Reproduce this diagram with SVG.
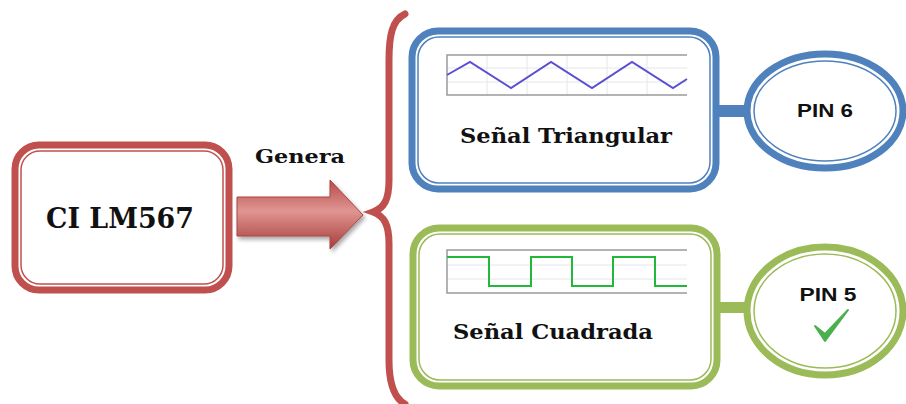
<svg xmlns="http://www.w3.org/2000/svg" width="906" height="404" viewBox="0 0 906 404">
<defs>
<linearGradient id="arrowGrad" x1="0" y1="0" x2="0" y2="1">
<stop offset="0" stop-color="#b84a48"/>
<stop offset="0.45" stop-color="#e09592"/>
<stop offset="1" stop-color="#a63c3a"/>
</linearGradient>
<filter id="shadow" x="-10%" y="-10%" width="130%" height="140%">
<feGaussianBlur in="SourceAlpha" stdDeviation="2"/>
<feOffset dx="2" dy="3"/>
<feComponentTransfer><feFuncA type="linear" slope="0.35"/></feComponentTransfer>
<feMerge><feMergeNode/><feMergeNode in="SourceGraphic"/></feMerge>
</filter>
</defs>
<style>
.serif{font-family:"DejaVu Serif","Liberation Serif",serif;font-weight:bold;fill:#111;}
.sans{font-family:"Liberation Sans","DejaVu Sans",sans-serif;font-weight:bold;fill:#111;}
.grid{stroke:#e6e6e6;stroke-width:1;fill:none;}
.frame{stroke:#9a9a9a;stroke-width:1.5;fill:none;}
</style>
<rect width="906" height="404" fill="#ffffff"/>

<g id="ci-lm567">
<rect x="15" y="145" width="214" height="145" rx="24" fill="#fff" stroke="#c0504d" stroke-width="7"/>
<rect x="21" y="151" width="202" height="133" rx="19" fill="none" stroke="#c0504d" stroke-width="1.5"/>
<text class="serif" x="120" y="228" font-size="27" text-anchor="middle" textLength="148" lengthAdjust="spacingAndGlyphs">CI LM567</text>
</g>

<g id="connectors">
<g id="arrow-genera" filter="url(#shadow)">
<path d="M237 197 L330 197 L330 180 L363 215 L330 249 L330 236 L237 236 Z" fill="url(#arrowGrad)" stroke="#a84442" stroke-width="1"/>
</g>
<text class="serif" x="300" y="163" font-size="18" text-anchor="middle" textLength="90" lengthAdjust="spacingAndGlyphs">Genera</text>
<path id="brace" d="M405 14 C392 20 389 36 389 60 L389 180 C389 200 384 208 373 212 C384 216 389 224 389 244 L389 360 C389 384 394 398 405 404" fill="none" stroke="#c0504d" stroke-width="7" stroke-linecap="round"/>
<rect x="714" y="105" width="34" height="12" fill="#4f81bd"/>
<rect x="714" y="302" width="34" height="11" fill="#9bbb59"/>
</g>

<g id="senal-triangular">
<rect x="412" y="31" width="304" height="158" rx="26" fill="#fff" stroke="#4f81bd" stroke-width="7"/>
<rect x="418" y="37" width="292" height="146" rx="21" fill="none" stroke="#4f81bd" stroke-width="1.5"/>
<path class="grid" d="M447 68 H687 M447 82 H687 M487 55 V95 M527 55 V95 M567 55 V95 M607 55 V95 M647 55 V95"/>
<path class="frame" d="M687 55 H447 V95 H687"/>
<polyline points="447,75 470,62 511,88 551,62 592,88 632,62 673,88 687,79" fill="none" stroke="#5a4fd0" stroke-width="2"/>
<text class="serif" x="566" y="143" font-size="20" text-anchor="middle" textLength="212" lengthAdjust="spacingAndGlyphs">Señal Triangular</text>
</g>

<g id="pin6">
<ellipse cx="825" cy="111" rx="78" ry="57" fill="#fff" stroke="#4f81bd" stroke-width="7"/>
<ellipse cx="825" cy="111" rx="71" ry="50" fill="none" stroke="#4f81bd" stroke-width="1.5"/>
<text class="sans" x="825" y="117" font-size="19" text-anchor="middle" textLength="56" lengthAdjust="spacingAndGlyphs">PIN 6</text>
</g>

<g id="senal-cuadrada">
<rect x="413" y="228" width="304" height="158" rx="26" fill="#fff" stroke="#9bbb59" stroke-width="7"/>
<rect x="419" y="234" width="292" height="146" rx="21" fill="none" stroke="#9bbb59" stroke-width="1.5"/>
<path class="grid" d="M447 265 H687 M447 279 H687"/>
<path class="frame" d="M687 250 H447 V293 H687"/>
<polyline points="447,257 489,257 489,286 531,286 531,257 572,257 572,286 613,286 613,257 655,257 655,286 687,286" fill="none" stroke="#22b83a" stroke-width="2"/>
<text class="serif" x="553" y="339" font-size="20" text-anchor="middle" textLength="200" lengthAdjust="spacingAndGlyphs">Señal Cuadrada</text>
</g>

<g id="pin5">
<ellipse cx="825" cy="311" rx="78" ry="64" fill="#fff" stroke="#9bbb59" stroke-width="7"/>
<ellipse cx="825" cy="311" rx="71" ry="57" fill="none" stroke="#9bbb59" stroke-width="1.5"/>
<text class="sans" x="828" y="301" font-size="19" text-anchor="middle" textLength="57" lengthAdjust="spacingAndGlyphs">PIN 5</text>
<path d="M815 326 L825 341 L848 310 L825 334 Z" fill="#4caf50" stroke="#4caf50" stroke-width="2" stroke-linejoin="round"/>
</g>
</svg>
